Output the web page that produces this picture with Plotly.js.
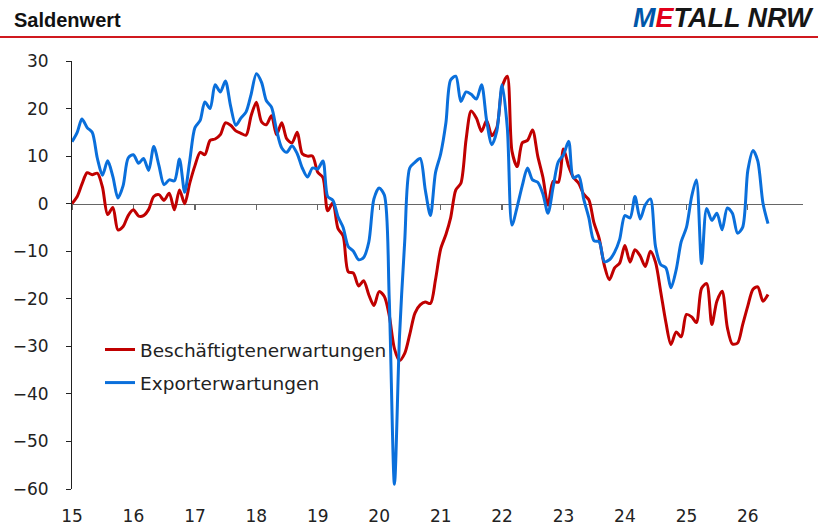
<!DOCTYPE html>
<html>
<head>
<meta charset="utf-8">
<script src="https://cdn.plot.ly/plotly-3.0.1.min.js"></script>
<style>html,body{margin:0;padding:0;background:#fff;}#chart{width:818px;height:527px;}</style>
</head>
<body>
<div id="chart"></div>
<script>
// Monthly values, Jan 2015 ... May 2026
const startYear = 2015;
const seriesNames = ['Beschäftigtenerwartungen', 'Exporterwartungen'];
const beschaeftigung = [
  0, 1.5, 4.1, 6.5, 6.1, 6.4, 3.5, -2.3, -0.8, -5.5, -4.8, -2.5,
  -1.3, -2.6, -2.5, -1.2, 1.5, 1.9, 0.7, 2.2, -1.3, 2.9, 0, 4.3,
  8, 10.8, 10.3, 13.3, 13.6, 14.5, 17, 16.5, 15.3, 14.8, 14.4, 18.5,
  21.3, 17.2, 16.6, 18.5, 14.5, 17, 13.6, 12.8, 15, 10.5, 10, 10,
  6.6, 5.5, -1.5, 0.2, -5.2, -6.8, -14.3, -14.6, -17.3, -16.2, -19.2, -21.4,
  -18.5, -19.5, -23.5, -30.5, -33, -31.5, -27.5, -23, -21.3, -20.7, -21, -16,
  -9.5, -6.5, -3, 2.9, 4.3, 13.5, 19.5, 18, 15.2, 17.5, 14.3, 16,
  24.5, 26.8, 11, 7.8, 12.8, 13.3, 15.5, 10, 5.5, -0.3, 4.7, 4.5,
  11.5, 7.8, 5.5, 4.3, 2, 0.8, -4, -7.3, -13, -16, -13.5, -12.5,
  -8.8, -12.3, -9.7, -11, -13.2, -10, -12.3, -18.5, -25, -29.6, -27, -28,
  -23.3, -23.8, -25, -17.8, -16.8, -25.4, -20.5, -18.4, -26, -29.5, -29.3, -25.5,
  -21.5, -18, -17.5, -20.5, -19.1
];
const export_ = [
  13, 15, 17.8, 16, 15, 9.5, 6, 9, 5.7, 1.2, 3.8, 9.6,
  10.3, 8.5, 9.5, 7, 12, 8, 4, 5, 4.8, 9.4, 2.4, 9,
  16, 17.5, 21.4, 20, 25, 23.5, 25.8, 20.5, 16.5, 18, 19.3, 23,
  27.3, 25.5, 21.7, 20.3, 15.5, 11.7, 10.8, 12.2, 10.5, 7.5, 5.6, 7.5,
  7.3, 9, 1.5, 0.7, -2.7, -5, -9, -10, -11.8, -11.3, -8, 1,
  3.3, 1.8, -20, -59, -28, -8, 7.5, 8.7, 9.5, 3, -2.5, 6.5,
  10.5, 17, 26, 26.8, 21.5, 23.5, 23, 22, 25, 17.5, 12.4, 15.3,
  25, 16, -4.5, -0.6, 3.8, 7.5, 5, 4.5, 2, -2, 3.6, 8.8,
  10.3, 13.1, 5.4, 5.9, 1, -3, -7.8, -8, -12.2, -11.8, -10.2, -7.5,
  -2.5, -3, 1.5, -3.2, -0.3, 1, -9, -12.8, -13.5, -17.7, -13.9, -8,
  -5, 1.5, 5, -12.6, -1, -3.5, -2, -5.5, -0.9, -2, -6.2, -5,
  7, 11.2, 9, 0.1, -4.2
];
const yTicks = [30, 20, 10, 0, -10, -20, -30, -40, -50, -60];

const months = beschaeftigung.map((_, i) => {
  const y = startYear + Math.floor(i / 12);
  const m = (i % 12) + 1;
  return y + '-' + String(m).padStart(2, '0') + '-01';
});

const W = 818, H = 527;
const mL = 72, mR = 15, mT = 61, mB = 38;
const pw = W - mL - mR, ph = H - mT - mB;
const px = x => (x - mL) / pw;
const py = y => (H - mB - y) / ph;

const tickFont = {family: 'DejaVu Sans', size: 17, color: '#222'};

const traces = [
  {x: months, y: beschaeftigung, name: seriesNames[0], type: 'scatter', mode: 'lines',
   line: {color: '#C00000', width: 3, shape: 'spline', smoothing: 0.8}, legendgroup: 'a'},
  {x: months, y: export_, name: seriesNames[1], type: 'scatter', mode: 'lines',
   line: {color: '#0A6FDB', width: 3, shape: 'spline', smoothing: 0.8}, legendgroup: 'b'},
  {x: [months[0]], y: [null], xaxis: 'x2', showlegend: false, hoverinfo: 'skip', mode: 'lines'}
];

const xr = ['2015-01-01', '2026-11-25'];

const layout = {
  width: W, height: H,
  margin: {l: mL, r: mR, t: mT, b: mB},
  paper_bgcolor: '#fff', plot_bgcolor: '#fff',
  showlegend: true,
  legend: {x: px(100), y: py(331), xanchor: 'left', yanchor: 'top',
           font: {family: 'DejaVu Sans', size: 18.5, color: '#222'},
           bgcolor: 'rgba(0,0,0,0)', traceorder: 'grouped', tracegroupgap: 6},
  xaxis: {type: 'date', range: xr, tick0: '2015-01-01', dtick: 'M12', tickformat: '%y',
          showgrid: false, zeroline: false, showline: false, ticks: '',
          tickfont: tickFont, ticklabelstandoff: 15},
  xaxis2: {type: 'date', range: xr, tick0: '2015-01-01', dtick: 'M12', overlaying: 'x',
           anchor: 'free', position: 60 / 90, showticklabels: false, showgrid: false,
           zeroline: false, showline: true, linecolor: '#666', linewidth: 1.5,
           ticks: 'outside', ticklen: 5, tickwidth: 1.2, tickcolor: '#666', layer: 'below traces'},
  yaxis: {range: [-60, 30], tickvals: yTicks, showgrid: false, zeroline: false,
          showline: true, linecolor: '#222', linewidth: 1, ticks: 'outside', ticklen: 5,
          tickcolor: '#222', tickfont: tickFont, ticklabelstandoff: 14},
  shapes: [
    {type: 'line', xref: 'paper', yref: 'paper', x0: px(0), x1: px(W), y0: py(37), y1: py(37),
     line: {color: '#D0191F', width: 2}}
  ],
  annotations: [
    {xref: 'paper', yref: 'paper', x: px(12), y: py(20), xanchor: 'left', yanchor: 'middle',
     text: '<b>Saldenwert</b>', showarrow: false,
     font: {family: 'Liberation Sans', size: 20, color: '#111'}},
    {xref: 'paper', yref: 'paper', x: px(631), y: py(18), xanchor: 'left', yanchor: 'middle',
     text: '<b><i><span style="color:#0056A8">M</span><span style="color:#E2001A">E</span>TALL NRW</i></b>',
     showarrow: false, font: {family: 'Liberation Sans', size: 27, color: '#161616'}}
  ]
};

Plotly.newPlot('chart', traces, layout, {staticPlot: true, displayModeBar: false});
</script>
</body>
</html>
